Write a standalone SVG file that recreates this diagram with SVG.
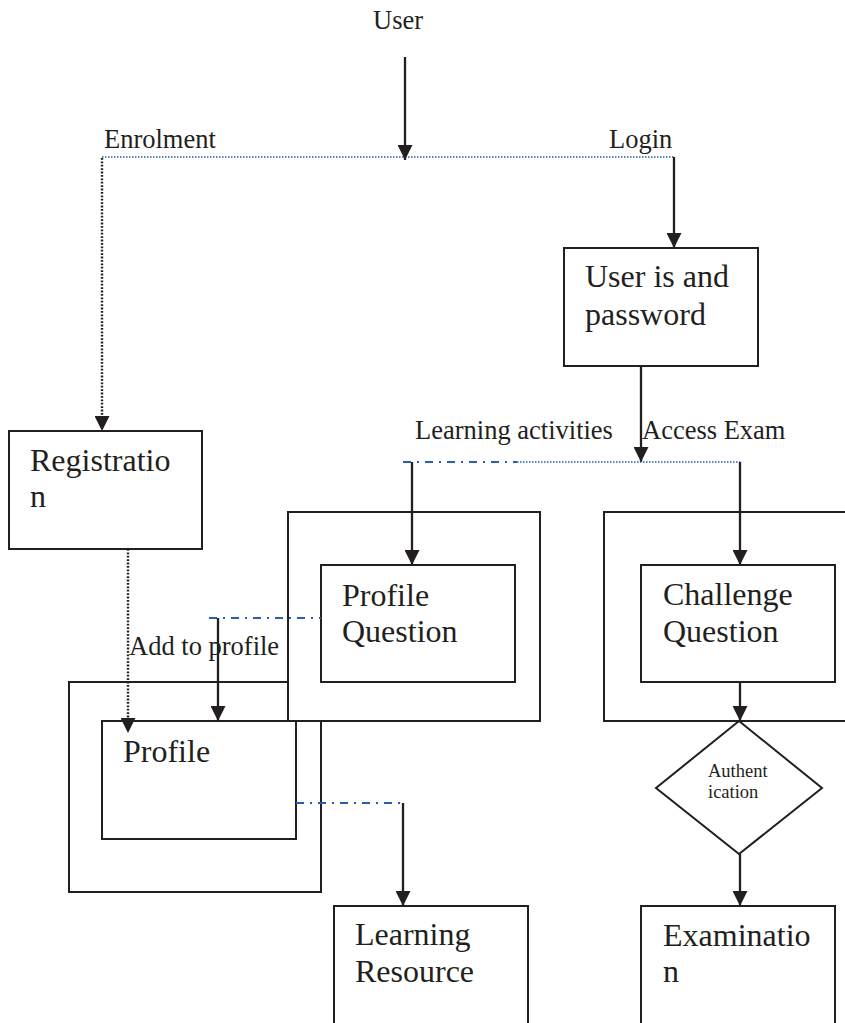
<svg xmlns="http://www.w3.org/2000/svg" width="845" height="1023" viewBox="0 0 845 1023">
<style>
.box{fill:#fff;stroke:#231f20;stroke-width:2}
.lbl{font-family:"Liberation Serif","Times New Roman",serif;font-size:26.5px;fill:#231f20}
.txt{font-family:"Liberation Serif","Times New Roman",serif;font-size:32px;fill:#231f20}
.sm{font-family:"Liberation Serif","Times New Roman",serif;font-size:18.5px;fill:#231f20}
.arr{stroke:#231f20;stroke-width:2.3;fill:none;marker-end:url(#ah)}
.bdot{stroke:#231f20;stroke-width:2.4;stroke-dasharray:1.8 1.6;fill:none}
.blue{stroke:#2a5cb0;stroke-width:1.4;stroke-dasharray:1.5 1.5;fill:none}
.dd{stroke:#2a5cb0;stroke-width:2;stroke-dasharray:8 6 2 6;fill:none}
</style>
<defs>
<marker id="ah" markerUnits="userSpaceOnUse" markerWidth="15" markerHeight="15" viewBox="0 0 15 15" refX="15" refY="7.5" orient="auto">
<path d="M0,0 L15,7.5 L0,15 z" fill="#231f20"/>
</marker>
</defs>
<rect width="845" height="1023" fill="#fff"/>
<g id="user"><text class="lbl" x="373" y="29">User</text></g>
<g id="user-box"><rect class="box" x="564" y="248" width="194" height="118"/>
<text class="txt" x="585" y="287">User is and</text><text class="txt" x="585" y="325">password</text></g>
<g id="registration"><rect class="box" x="9" y="431" width="193" height="118"/>
<text class="txt" x="30" y="471">Registratio</text><text class="txt" x="30" y="507">n</text></g>
<g id="profile-outer"><rect class="box" x="69" y="682" width="252" height="210"/></g>
<g id="profile-question-outer"><rect class="box" x="288" y="512" width="252" height="209"/></g>
<g id="profile-question"><rect class="box" x="321" y="565" width="194" height="117"/>
<text class="txt" x="342" y="606">Profile</text><text class="txt" x="342" y="642">Question</text></g>
<g id="profile"><rect class="box" x="102" y="721" width="194" height="118"/>
<text class="txt" x="123" y="762">Profile</text></g>
<g id="challenge-outer"><rect class="box" x="604" y="512" width="260" height="209"/></g>
<g id="challenge-question"><rect class="box" x="641" y="565" width="194" height="117"/>
<text class="txt" x="663" y="605">Challenge</text><text class="txt" x="663" y="642">Question</text></g>
<g id="authentication"><polygon class="box" points="739,721 822,788 739,854 656,788"/>
<text class="sm" x="708" y="777">Authent</text><text class="sm" x="708" y="798">ication</text></g>
<g id="learning-resource"><rect class="box" x="334" y="906" width="194" height="130"/>
<text class="txt" x="355" y="945">Learning</text><text class="txt" x="355" y="982">Resource</text></g>
<g id="examination"><rect class="box" x="641" y="906" width="194" height="130"/>
<text class="txt" x="663" y="946">Examinatio</text><text class="txt" x="663" y="982">n</text></g>
<g id="labels">
<text class="lbl" x="104" y="148">Enrolment</text>
<text class="lbl" x="609" y="148">Login</text>
<text class="lbl" x="415" y="439">Learning activities</text>
<text class="lbl" x="642" y="439">Access Exam</text>
<text class="lbl" x="129" y="655">Add to profile</text>
</g>
<g id="connectors">
<line class="blue" x1="102" y1="157" x2="674" y2="157"/>
<line class="arr" x1="405" y1="57" x2="405" y2="160"/>
<line class="bdot" x1="102" y1="158" x2="102" y2="418"/>
<line class="arr" x1="102" y1="425" x2="102" y2="431" style="stroke:none"/>
<line class="arr" x1="674" y1="157" x2="674" y2="248"/>
<line class="arr" x1="641" y1="366" x2="641" y2="462"/>
<line class="dd" x1="403" y1="462" x2="517" y2="462"/>
<line class="blue" x1="517" y1="462" x2="740" y2="462"/>
<line class="arr" x1="412" y1="462" x2="412" y2="565"/>
<line class="arr" x1="740" y1="462" x2="740" y2="565"/>
<line class="bdot" x1="128" y1="549" x2="128" y2="720"/>
<line class="arr" x1="128" y1="727" x2="128" y2="733" style="stroke:none"/>
<line class="dd" x1="209" y1="618" x2="321" y2="618"/>
<line class="arr" x1="218" y1="618" x2="218" y2="721"/>
<line class="dd" x1="296" y1="803" x2="403" y2="803"/>
<line class="arr" x1="403" y1="803" x2="403" y2="906"/>
<line class="arr" x1="740" y1="682" x2="740" y2="721"/>
<line class="arr" x1="740" y1="854" x2="740" y2="906"/>
</g>
</svg>
